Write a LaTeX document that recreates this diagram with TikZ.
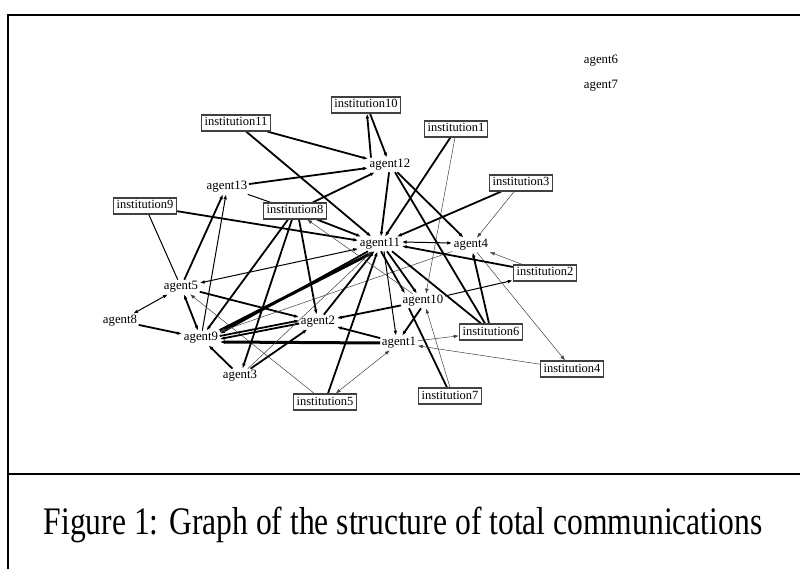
\documentclass[tikz,border=0pt]{standalone}
\usepackage{fontspec}
\setmainfont{Liberation Serif}
\usetikzlibrary{arrows.meta}
\pgfdeclarelayer{bg}
\pgfsetlayers{bg,main}
\begin{document}
\begin{tikzpicture}[x=1pt,y=-1pt,
  ag/.style={inner sep=1.5pt,font=\fontsize{12.8}{14}\selectfont},
  inst/.style={draw=black!75,line width=1.1pt,fill=white,inner xsep=3.2pt,inner ysep=2.5pt,
    text height=8.5pt,text depth=2.5pt,font=\fontsize{12.5}{14}\selectfont},
  e0/.style={line width=0.5pt,draw=black!75},
  e1/.style={line width=1pt},
  e2/.style={line width=1.8pt},
  e3/.style={line width=3pt},
  >={Latex[length=5pt,width=3.6pt]}
]
\useasboundingbox (0,0) rectangle (800,569);
% frame
\draw[line width=2pt] (8,569) -- (8,15) -- (800,15);
\draw[line width=2pt] (8,474) -- (800,474);
\node[anchor=base,font=\fontsize{39}{44}\selectfont] (cap) at (403,534)
  {\scalebox{0.81}[1]{Figure 1: Graph of the structure of total communications}};
% nodes
\node[ag] (a6) at (601,61) {agent6};
\node[ag] (a7) at (601,86) {agent7};
\node[inst] (i10) at (366,105) {institution10};
\node[inst] (i11) at (236,123) {institution11};
\node[inst] (i1) at (456,129) {institution1};
\node[ag] (a12) at (390,165) {agent12};
\node[inst] (i3) at (521,183) {institution3};
\node[ag] (a13) at (227,187) {agent13};
\node[inst] (i9) at (145,206) {institution9};
\node[inst] (i8) at (295,211) {institution8};
\node[ag] (a11) at (380,244) {agent11};
\node[ag] (a4) at (471,245) {agent4};
\node[inst] (i2) at (545,273) {institution2};
\node[ag] (a5) at (181,287) {agent5};
\node[ag] (a10) at (423,301) {agent10};
\node[ag] (a8) at (120,321) {agent8};
\node[ag] (a2) at (318,322) {agent2};
\node[inst] (i6) at (491,332) {institution6};
\node[ag] (a9) at (201,338) {agent9};
\node[ag] (a1) at (399,343) {agent1};
\node[inst] (i4) at (572,369) {institution4};
\node[ag] (a3) at (240,376) {agent3};
\node[inst] (i7) at (450,396) {institution7};
\node[inst] (i5) at (325,402) {institution5};
% edges
\begin{pgfonlayer}{bg}
\draw[e2,->] ([xshift=-19pt]a12.north) -- ([xshift=1pt]i10.south);
\draw[e2,->] ([xshift=4pt]i10.south) -- ([xshift=-3pt]a12.north);
\draw[e2,->] (i11) -- (a12);
\draw[e2,->] (i11) -- (a11);
\draw[e2,->] (a13) -- (a12);
\draw[e1] (a13) -- (i8);
\draw[e2,->] (i8) -- (a12);
\draw[e2,->] (i9) -- (a11);
\draw[e1] (i9) -- (a5);
\draw[e2,->] (a5) -- ([xshift=-4pt]a13.south);
\draw[e1,->] (a9) -- ([xshift=-1pt]a13.south);
\draw[e2,->] ([xshift=-7pt]i8.south) -- (a9);
\draw[e2,->] ([xshift=-3pt]i8.south) -- (a3);
\draw[e2,->] ([xshift=4pt]i8.south) -- (a2);
\draw[e1,<->] (a8) -- (a5);
\draw[e2,->] (a8) -- (a9);
\draw[e2,<->] (a5) -- (a9);
\draw[e2,->] (a5) -- (a2);
\draw[e1,<->] (a11) -- (a5);
\draw[e0,->] (i5) -- (a5);
\draw[e3,->] (a9.north east) -- ([xshift=-5pt]a11.south);
\draw[e2,->] ([xshift=-12pt]a11.south) -- ([yshift=-3pt]a9.north east);
\draw[e0,->] (a4) -- (a9);
\draw[e2,->] ([yshift=2pt]a9.east) -- ([yshift=1.5pt]a2.west);
\draw[e2,->] ([yshift=-1.5pt]a2.west) -- ([yshift=-1pt]a9.east);
\draw[e3,->] (a1.west) -- ([yshift=-4pt]a9.east);
\draw[e2,->] (a3) -- (a9);
\draw[e2,->] (a3) -- (a2);
\draw[e0,->] (a3) -- (a11);
\draw[e2,->] (a2) -- (a11);
\draw[e2,->] (i5) -- (a11);
\draw[e2,->] (a10) -- (a2);
\draw[e2,->] (a1) -- (a2);
\draw[e0,<->] (i5) -- (a1);
\draw[e1,->] ([xshift=4pt]a11.south) -- ([xshift=-3pt]a1.north);
\draw[e2,->] ([xshift=1pt]a11.south) -- ([xshift=-18pt]a10.north);
\draw[e2,->] ([xshift=7pt]a11.south) -- ([xshift=-6pt]a10.north);
\draw[e2] ([xshift=12pt]a11.south) -- ([xshift=-10pt]i6.north);
\draw[e1,->] (a10) -- (i2);
\draw[e2,->] ([xshift=-2pt]a10.south) -- ([xshift=3pt]a1.north);
\draw[e0,->] (i7.north) -- ([xshift=3pt]a10.south);
\draw[e2] ([xshift=-3pt]i7.north) -- ([xshift=-14pt]a10.south);
\draw[e0,->] (a1) -- (i6);
\draw[e0,->] (i4) -- (a1);
\draw[e0,->] (a4) -- (i4);
\draw[e1,<->] ([yshift=2pt]a11.east) -- ([yshift=2pt]a4.west);
\draw[e2,->] (i2) -- ([yshift=-2pt]a11.east);
\draw[e0,->] (i2) -- (a4);
\draw[e2,->] (i3) -- (a11);
\draw[e0,->] (i3) -- (a4);
\draw[e2,->] (i1) -- (a11);
\draw[e0,->] ([xshift=-1pt]i1.south) -- ([xshift=3pt]a10.north);
\draw[e2,->] (a12) -- (a11);
\draw[e2,->] (a12) -- (a4);
\draw[e2] ([xshift=5pt]a12.south) -- ([xshift=-6pt]i6.north);
\draw[e2,->] ([xshift=-2pt]i6.north) -- (a4);
\draw[e0,->] (a10) -- (i8);
\draw[e2,->] (i8) -- (a11);
\end{pgfonlayer}
\end{tikzpicture}
\end{document}
